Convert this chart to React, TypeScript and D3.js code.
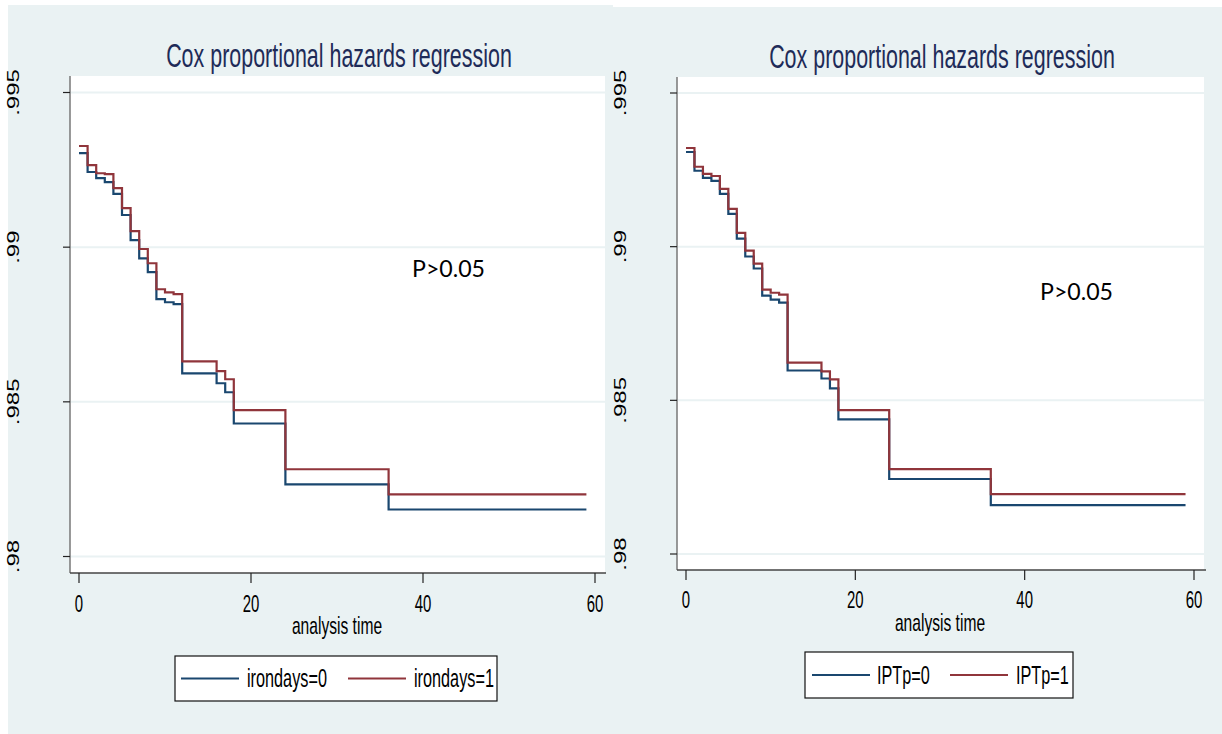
import React, { useEffect, useRef } from "react";
import * as d3 from "d3";

// survival estimates
const times = [0, 1, 2, 3, 4, 5, 6, 7, 8, 9, 10, 11, 12, 16, 17, 18, 24, 36];
const lastTime = 59;

const irondays0 = [0.99304, 0.99243, 0.99223, 0.9921, 0.99172, 0.99104, 0.99023, 0.98964, 0.98919, 0.98832, 0.98822, 0.98816, 0.98592, 0.9856, 0.98531, 0.9843, 0.98233, 0.98152];
const irondays1 = [0.99327, 0.99265, 0.99239, 0.99236, 0.99191, 0.99126, 0.99052, 0.98994, 0.98948, 0.98864, 0.98854, 0.98848, 0.98631, 0.98599, 0.98573, 0.98473, 0.98282, 0.98201];
const iptp0 = [0.99308, 0.99247, 0.99224, 0.99214, 0.99172, 0.99107, 0.99026, 0.98968, 0.98929, 0.98841, 0.98828, 0.98818, 0.98597, 0.98571, 0.98539, 0.98438, 0.98244, 0.98159];
const iptp1 = [0.99321, 0.9926, 0.99237, 0.9923, 0.99188, 0.99123, 0.99045, 0.98987, 0.98945, 0.9886, 0.9885, 0.98844, 0.98623, 0.98594, 0.98568, 0.98468, 0.98276, 0.98195];

const yTicks = [0.98, 0.985, 0.99, 0.995];
const yTickLabels = [".98", ".985", ".99", ".995"];
const xTicks = [0, 20, 40, 60];

const titleText = "Cox proportional hazards regression";
const xTitle = "analysis time";
const pText = "P>0.05";

const BLUE = "#1a476f";
const RED = "#90353b";
const BG = "#eaf2f3";
const FONT = "'Liberation Sans', Arial, sans-serif";
const SQ = 0.65; // horizontal squeeze of the original bitmap

const panels = [
  {
    labels: ["irondays=0", "irondays=1"],
    series: [irondays0, irondays1],
    bg: { x: 8, y: 5, w: 605, h: 729 },
    plot: { x0: 70, x1: 605, y0: 76, y1: 573 },
    xr: [79, 595], yr: [556.5, 92.5],
    titleX: 339, titleY: 67, yLabX: 18.5, xLabY: 612, xTitleY: 634,
    legend: { x: 175, y: 656, w: 322, h: 45, l0: 181, l1: 239, t0: 247, t0w: 76, r0: 348, r1: 406, t1: 414, t1w: 75 },
    p: { x: 412, y: 277 },
  },
  {
    labels: ["IPTp=0", "IPTp=1"],
    series: [iptp0, iptp1],
    bg: { x: 606, y: 7, w: 616, h: 727 },
    plot: { x0: 677, x1: 1204, y0: 77, y1: 570 },
    xr: [686, 1194], yr: [554, 93],
    titleX: 942, titleY: 68, yLabX: 625.5, xLabY: 608, xTitleY: 631,
    legend: { x: 805, y: 652, w: 268, h: 46, l0: 812, l1: 870, t0: 877, t0w: 51, r0: 950, r1: 1008, t1: 1016, t1w: 50 },
    p: { x: 1040, y: 300 },
  },
];

function squeezed(g: any, x: number, y: number, text: string, size: number, anchor = "middle", color = "#000") {
  return g.append("text")
    .attr("transform", `translate(${x},${y}) scale(${SQ},1)`)
    .attr("text-anchor", anchor)
    .attr("font-family", FONT)
    .attr("font-size", size)
    .attr("fill", color)
    .text(text);
}

function drawPanel(svg: any, cfg: any) {
  const g = svg.append("g");
  const { plot } = cfg;

  g.append("rect").attr("x", cfg.bg.x).attr("y", cfg.bg.y)
    .attr("width", cfg.bg.w).attr("height", cfg.bg.h).attr("fill", BG);

  g.append("rect").attr("x", plot.x0).attr("y", plot.y0)
    .attr("width", plot.x1 - plot.x0).attr("height", plot.y1 - plot.y0).attr("fill", "#fff");

  const x = d3.scaleLinear().domain([0, 60]).range(cfg.xr);
  const y = d3.scaleLinear().domain([0.98, 0.995]).range(cfg.yr);

  // gridlines
  g.selectAll(".grid").data(yTicks).enter().append("line")
    .attr("x1", plot.x0).attr("x2", plot.x1)
    .attr("y1", (d: number) => y(d)).attr("y2", (d: number) => y(d))
    .attr("stroke", BG).attr("stroke-width", 2);

  // title
  squeezed(g, cfg.titleX, cfg.titleY, titleText, 33, "middle", "#1e2b58");

  // y axis
  g.append("line").attr("x1", plot.x0).attr("x2", plot.x0)
    .attr("y1", plot.y0).attr("y2", plot.y1)
    .attr("stroke", "#777").attr("stroke-width", 1.5);
  g.selectAll(".ytick").data(yTicks).enter().append("line")
    .attr("x1", plot.x0 - 7).attr("x2", plot.x0)
    .attr("y1", (d: number) => y(d)).attr("y2", (d: number) => y(d))
    .attr("stroke", "#222").attr("stroke-width", 1.2);
  g.selectAll(".ylab").data(yTicks).enter().append("text")
    .attr("transform", (d: number) => `translate(${cfg.yLabX},${y(d)}) scale(${SQ},1) rotate(-90)`)
    .attr("text-anchor", "middle")
    .attr("font-family", FONT)
    .attr("font-size", 24)
    .text((d: number, i: number) => yTickLabels[i]);

  // x axis
  g.append("line").attr("x1", plot.x0).attr("x2", plot.x1 + 2)
    .attr("y1", plot.y1).attr("y2", plot.y1)
    .attr("stroke", "#444").attr("stroke-width", 1.5);
  g.selectAll(".xtick").data(xTicks).enter().append("line")
    .attr("x1", (d: number) => x(d)).attr("x2", (d: number) => x(d))
    .attr("y1", plot.y1).attr("y2", plot.y1 + 10)
    .attr("stroke", "#222").attr("stroke-width", 1.2);
  xTicks.forEach(t => squeezed(g, x(t), cfg.xLabY, String(t), 23));
  squeezed(g, (cfg.xr[0] + cfg.xr[1]) / 2, cfg.xTitleY, xTitle, 24);

  // survival curves
  const line = d3.line<[number, number]>()
    .x(d => x(d[0]))
    .y(d => y(d[1]))
    .curve(d3.curveStepAfter);
  const colors = [BLUE, RED];
  cfg.series.forEach((vals: number[], k: number) => {
    const pts: [number, number][] = times.map((t, i) => [t, vals[i]]);
    pts.push([lastTime, vals[vals.length - 1]]);
    g.append("path").attr("d", line(pts))
      .attr("fill", "none").attr("stroke", colors[k]).attr("stroke-width", 2.2);
  });

  // p value note
  g.append("text").attr("x", cfg.p.x).attr("y", cfg.p.y)
    .attr("font-family", "Lato, 'Open Sans', sans-serif").attr("font-size", 23)
    .attr("textLength", 73).attr("lengthAdjust", "spacingAndGlyphs")
    .text(pText);

  // legend
  const L = cfg.legend;
  g.append("rect").attr("x", L.x).attr("y", L.y).attr("width", L.w).attr("height", L.h)
    .attr("fill", "#fff").attr("stroke", "#111").attr("stroke-width", 1.2);
  const cy = L.y + L.h / 2;
  g.append("line").attr("x1", L.l0).attr("x2", L.l1).attr("y1", cy).attr("y2", cy)
    .attr("stroke", BLUE).attr("stroke-width", 2.2);
  g.append("line").attr("x1", L.r0).attr("x2", L.r1).attr("y1", cy).attr("y2", cy)
    .attr("stroke", RED).attr("stroke-width", 2.2);
  squeezed(g, L.t0, cy + 8.5, cfg.labels[0], 25, "start");
  squeezed(g, L.t1, cy + 8.5, cfg.labels[1], 25, "start");
}

export default function App() {
  const ref = useRef<SVGSVGElement>(null);

  useEffect(() => {
    const svg = d3.select(ref.current);
    svg.selectAll("*").remove();
    panels.forEach(p => drawPanel(svg, p));
  }, []);

  return (
    <svg
      ref={ref}
      width={1222}
      height={734}
      style={{ position: "absolute", left: 0, top: 0, background: "#fff" }}
    />
  );
}
